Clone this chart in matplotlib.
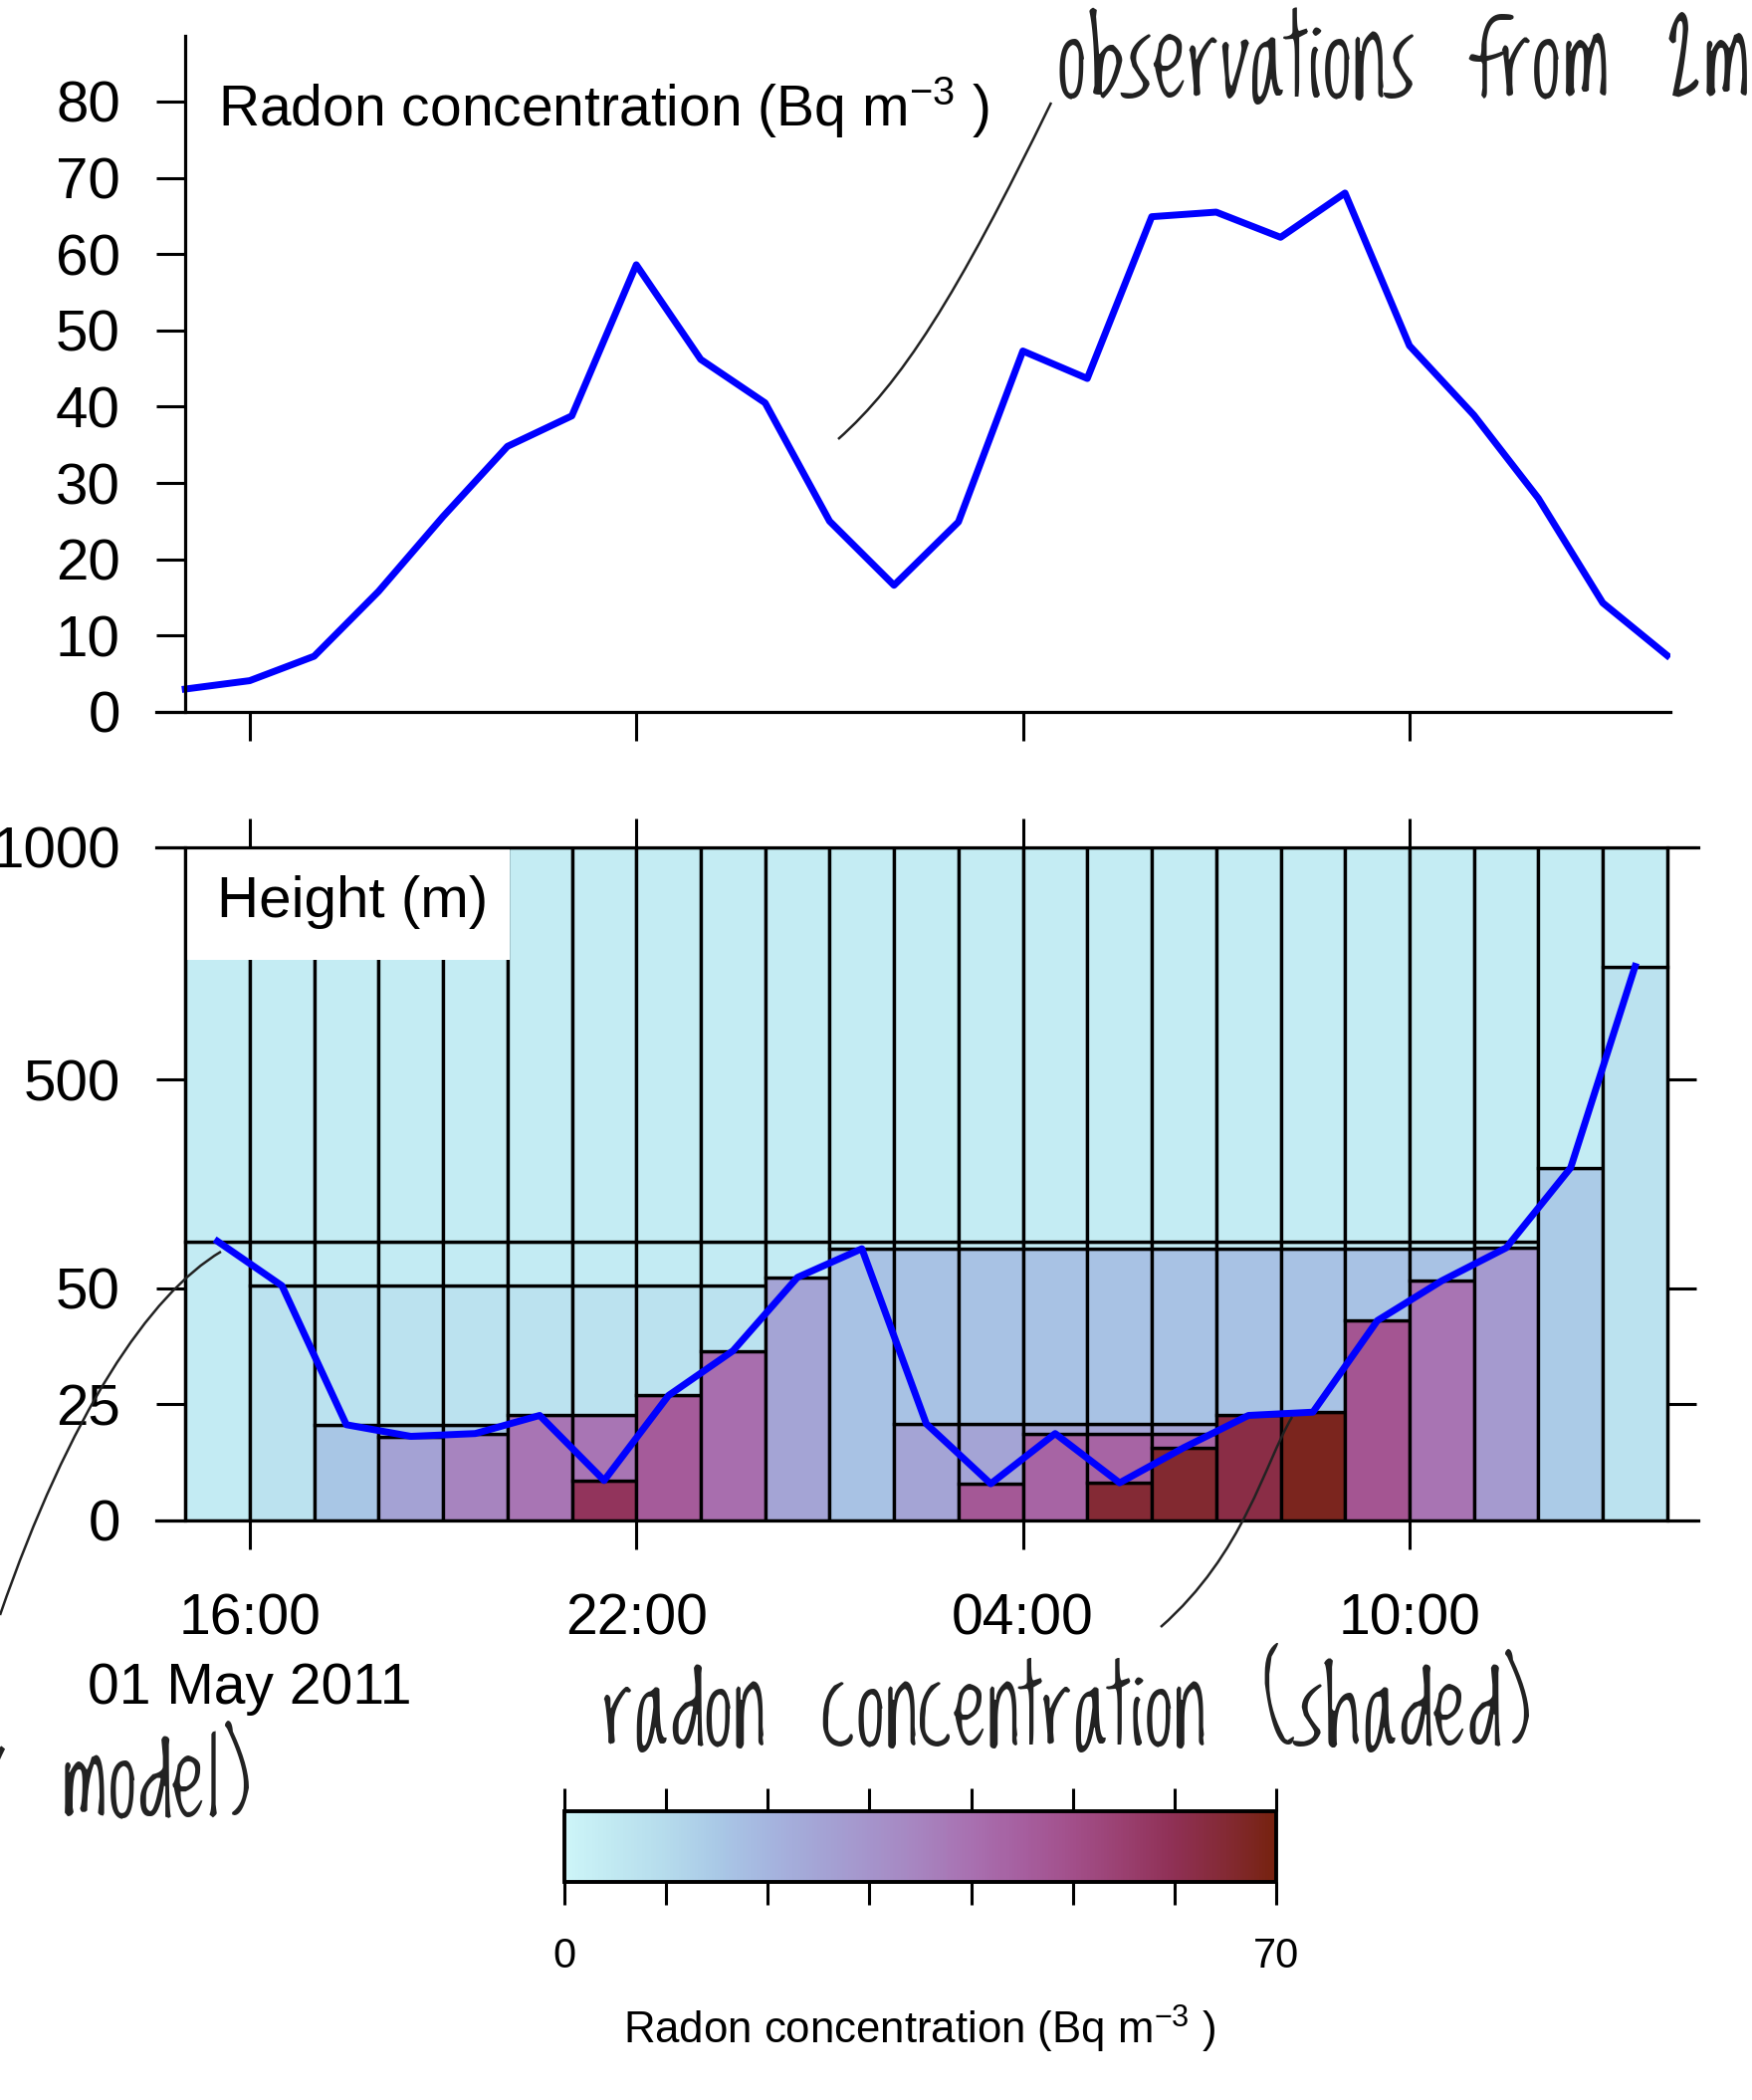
import numpy as np
import matplotlib
matplotlib.use("Agg")
import matplotlib.pyplot as plt
from matplotlib.colors import LinearSegmentedColormap, Normalize
from matplotlib.cm import ScalarMappable
from matplotlib.path import Path
from matplotlib.patches import PathPatch, Rectangle
from matplotlib.ticker import FixedLocator, FixedFormatter

plt.rcParams['font.family'] = ['Liberation Sans', 'DejaVu Sans']
plt.rcParams['mathtext.fontset'] = 'custom'
plt.rcParams['mathtext.rm'] = 'Liberation Sans'
plt.rcParams['mathtext.it'] = 'Liberation Sans:italic'
plt.rcParams['mathtext.bf'] = 'Liberation Sans:bold'

# observed radon at 2 m, hourly from 15:00 01 May 2011 (hours after 15:00)
obs_hours = np.arange(24)
obs_radon = [3.0, 4.1, 7.3, 15.8, 25.6, 34.8, 38.8, 58.6, 46.2, 40.5, 25.0, 16.6,
             24.9, 47.3, 43.7, 64.9, 65.5, 62.2, 68.0, 48.0, 38.9, 28.0, 14.3, 7.4]

# box model: mixing height (m) for each hourly step, mixed to the radon value at the end of the step
model_height = [151, 55, 20.6, 18.1, 18.7, 22.6, 8.6, 26.9, 36.5, 73, 135, 20.8,
                7.9, 18.7, 8.1, 15.7, 22.6, 23.3, 43, 65.7, 137, 310, 744]
model_radon = obs_radon[1:]
background_radon = 3.5
model_top = 1000.0

time_ticks = [1, 7, 13, 19]
time_labels = ['16:00\n01 May 2011', '22:00', '04:00', '10:00']
radon_ticks = list(range(0, 81, 10))
height_ticks = [0, 25, 50, 500, 1000]

# stretched height axis
height_breaks = [0, 25, 50, 500, 1000]
height_pos = [0, 25, 50, 94.8, 144.8]

# colour scale
cmap_vals = [0, 5, 10, 15, 20, 25, 30, 35, 40, 45, 50, 55, 60, 65, 70]
cmap_cols = ['#cdf5f8', '#c0e8f1', '#b5dbec', '#a9c8e6', '#a5b5df', '#a4a4d5', '#a594cb',
             '#a784bf', '#a870b0', '#a65f9f', '#a24f8a', '#9a4070', '#8f3055', '#842a35', '#76220f']
cmap = LinearSegmentedColormap.from_list(
    'radon', list(zip(np.array(cmap_vals) / 70.0, cmap_cols)))
norm = Normalize(0, 70)

W, H = 1760, 2109


def fig_box(x0, y0, x1, y1):
    return [x0 / W, 1 - y1 / H, (x1 - x0) / W, (y1 - y0) / H]


def fig_pt(x, y):
    return (x / W, 1 - y / H)


def add_curve(fig, pts):
    verts = [fig_pt(*p) for p in pts]
    codes = [Path.MOVETO, Path.CURVE4, Path.CURVE4, Path.CURVE4]
    fig.add_artist(PathPatch(Path(verts, codes), transform=fig.transFigure,
                             fill=False, edgecolor='#222222', lw=1.8))


# build the layered cells of the box model: layers above the mixing height keep their old value
cells_x, cells_bot, cells_h, cells_c = [], [], [], []
layers = [(model_top, background_radon)]
for i, (h, c) in enumerate(zip(model_height, model_radon)):
    layers = [(h, c)] + [l for l in layers if l[0] > h]
    bot = 0.0
    for top, conc in layers:
        cells_x.append(i + 0.5)
        cells_bot.append(bot)
        cells_h.append(top - bot)
        cells_c.append(conc)
        bot = top

fig = plt.figure(figsize=(17.6, 21.09), dpi=100)

# ---- top panel: observations
ax1 = fig.add_axes(fig_box(157, 36, 1678, 715))
ax1.plot(obs_hours, obs_radon, color='blue', lw=5)
ax1.set_xlim(-0.45, 23.05)
ax1.set_ylim(0, 88.6)
ax1.xaxis.set_major_locator(FixedLocator(time_ticks))
ax1.yaxis.set_major_locator(FixedLocator(radon_ticks))
ax1.tick_params(direction='out', length=21, width=2.2, labelsize=42)
ax1.tick_params(axis='x', labelbottom=False)
ax1.tick_params(axis='y', pad=26)
ax1.spines['top'].set_visible(False)
ax1.spines['right'].set_visible(False)
ax1.spines['left'].set_position(('data', 0))
for s in ax1.spines.values():
    s.set_linewidth(2.3)

# ---- bottom panel: box model
ax2 = fig.add_axes(fig_box(157, 851, 1706, 1527))
ax2.set_yscale('function', functions=(lambda h: np.interp(h, height_breaks, height_pos),
                                      lambda p: np.interp(p, height_pos, height_breaks)))
ax2.bar(cells_x, cells_h, bottom=cells_bot, width=1.0, color=cmap(norm(cells_c)),
        edgecolor='black', linewidth=2.4, zorder=1)
ax2.plot(np.arange(len(model_height)) + 0.5, model_height, color='blue', lw=5, zorder=3)
ax2.set_xlim(-0.45, 23.48)
ax2.set_ylim(0, 1000)
ax2.xaxis.set_major_locator(FixedLocator(time_ticks))
ax2.xaxis.set_major_formatter(FixedFormatter(time_labels))
ax2.yaxis.set_major_locator(FixedLocator(height_ticks))
ax2.yaxis.set_major_formatter(FixedFormatter([str(v) for v in height_ticks]))
ax2.yaxis.set_minor_locator(FixedLocator([]))
ax2.tick_params(direction='out', length=21, width=2.2, labelsize=42)
ax2.tick_params(axis='x', labelsize=41, top=True, bottom=True, labeltop=False, pad=31)
ax2.tick_params(axis='y', left=True, right=True, labelright=False, pad=26)
for lab in ax2.get_xticklabels():
    lab.set_linespacing(1.38)
ax2.spines['left'].set_position(('data', 0))
ax2.spines['right'].set_position(('data', 23))
for s in ax2.spines.values():
    s.set_linewidth(2.3)
ax2.add_patch(Rectangle((0.019, 0.833), 0.21, 0.167, transform=ax2.transAxes,
                        facecolor='white', edgecolor='none', zorder=1.5))

# ---- colour bar
cax = fig.add_axes(fig_box(567, 1819, 1282, 1890))
cb = fig.colorbar(ScalarMappable(norm=norm, cmap=cmap), cax=cax, orientation='horizontal')
cb.set_ticks(list(range(0, 71, 10)), labels=['0', '', '', '', '', '', '', '70'])
cax.xaxis.set_ticks_position('both')
cax.tick_params(direction='out', length=16.6, width=2.2, labelsize=30, pad=23,
                labeltop=False, labelbottom=True)
cb.outline.set_linewidth(2.8)

# ---- labels
fig.text(219 / W, 1 - 127 / H, r'Radon concentration (Bq m$^{-3}$ )', fontsize=41, va='baseline')
fig.text(218 / W, 1 - 921 / H, 'Height (m)', fontsize=42, va='baseline', zorder=5)
fig.text(924 / W, 1 - 2053 / H, r'Radon concentration (Bq m$^{-3}$ )', fontsize=31.5,
         ha='center', va='baseline')

hand = ['Loved by the King', 'DejaVu Sans']
fig.text(1062 / W, 1 - 97 / H, 'observations from 2m', family=hand, fontsize=80,
         color='#222222', va='baseline')
fig.text(605 / W, 1 - 1752 / H, 'radon concentration (shaded)', family=hand, fontsize=78,
         color='#222222', va='baseline')
fig.text(252 / W, 1 - 1824 / H, 'mixing height (box model)', family=hand, fontsize=78,
         color='#222222', va='baseline', ha='right')

# pointer curves
add_curve(fig, [(842, 441), (905, 385), (960, 300), (1056, 103)])
add_curve(fig, [(222, 1257), (150, 1300), (70, 1420), (0, 1622)])
add_curve(fig, [(1298, 1423), (1270, 1470), (1250, 1560), (1166, 1634)])

fig.savefig('out.png', dpi=100)
